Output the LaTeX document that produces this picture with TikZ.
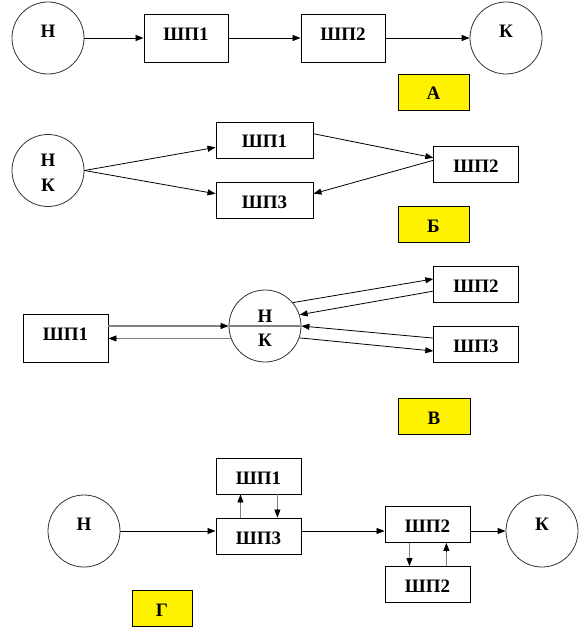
\documentclass[tikz,border=0pt]{standalone}
\usepackage{fontspec}
\setmainfont{Liberation Serif}
\usetikzlibrary{arrows.meta,calc}
\definecolor{lgray}{RGB}{128,128,128}
\newcommand\grayarrow[2]{%
  \draw[gline] (#1) -- ($(#2)!5pt!(#1)$);
  \draw[arr] ($(#2)!8.5pt!(#1)$) -- (#2);}
\begin{document}
\begin{tikzpicture}[x=1pt,y=-1pt]
\tikzset{
 fs/.style={font=\fontsize{19}{22}\selectfont\bfseries},
 bx/.style={draw=black, line width=0.9pt, rectangle, inner sep=0pt, fs, minimum width=#1},
 b48/.style={bx=#1, minimum height=48pt, text depth=8pt},
 b36/.style={bx=#1, minimum height=36pt, text height=16pt, text depth=0pt},
 lbl/.style={b36=#1, fill=yellow},
 circ/.style={draw=black!80, line width=0.8pt, circle, minimum size=72pt, inner sep=0pt, fs, text depth=14.3pt},
 tx/.style={fs, inner sep=0pt, anchor=base},
 arr/.style={-{Triangle[length=8pt,width=6pt]}, line width=0.8pt, draw=black},
 gline/.style={line width=1.8pt, draw=lgray},
}
\fill[white] (0,0) rectangle (588,639);
\useasboundingbox (0,0) rectangle (588,639);

% ---- A
\node[circ] (aN) at (48,38) {Н};
\node[b48=84pt] (aS1) at (186,38) {ШП1};
\node[b48=84pt] (aS2) at (343,38) {ШП2};
\node[circ] (aK) at (506,38) {К};
\node[lbl=71pt] (aL) at (433.5,92) {А};
\draw[arr] (aN.east) -- (aS1.west);
\draw[arr] (aS1.east) -- (aS2.west);
\draw[arr] (aS2.east) -- (aK.west);

% ---- Б
\node[circ] (bNK) at (48,170.5) {};
\node[tx] (bNKn) at (48,166.5) {Н};
\node[tx] (bNKk) at (48,191) {К};
\node[b36=97pt] (bS1) at (264.5,140) {ШП1};
\node[b36=97pt] (bS3) at (264.5,200) {ШП3};
\node[b36=84.5pt] (bS2) at (476,164) {ШП2};
\node[lbl=71pt] (bL) at (433.5,224.5) {Б};
\draw[arr] (bNK.east) -- ($(bS1.north west)!0.7!(bS1.south west)$);
\draw[arr] (bNK.east) -- ($(bS3.north west)!0.33!(bS3.south west)$);
\draw[arr] ($(bS1.north east)!0.33!(bS1.south east)$) -- ($(bS2.north west)!0.33!(bS2.south west)$);
\draw[arr] ($(bS2.north west)!0.4!(bS2.south west)$) -- ($(bS3.north east)!0.33!(bS3.south east)$);

% ---- В
\node[b48=85pt] (vS1) at (65.5,338) {ШП1};
\node[circ] (vNK) at (265,326) {};
\node[tx] (vNKn) at (265,322) {Н};
\node[tx] (vNKk) at (265,346) {К};
\node[b36=84.5pt] (vS2) at (476,284.5) {ШП2};
\node[b36=84.5pt] (vS3) at (476,344) {ШП3};
\node[lbl=72pt] (vL) at (434,416) {В};
\draw[gline] (vNK.west) -- (vNK.east);
\coordinate (v1s) at (vS1.east |- vNK.west);
\coordinate (v2e) at (vNK.200 -| vS1.east);
\grayarrow{v1s}{vNK.west}
\grayarrow{vNK.200}{v2e}
\draw[arr] (vNK.40) -- ($(vS2.north west)!0.35!(vS2.south west)$);
\draw[arr] ($(vS2.north west)!0.68!(vS2.south west)$) -- (vNK.18);
\draw[arr] ($(vS3.north west)!0.34!(vS3.south west)$) -- (vNK.east);
\draw[arr] (vNK.-19) -- ($(vS3.north west)!0.69!(vS3.south west)$);

% ---- Г
\node[circ] (gN) at (84,531) {Н};
\node[b36=85pt] (gS1) at (258.5,476) {ШП1};
\node[b36=85pt] (gS3) at (258.5,536) {ШП3};
\node[b36=85pt] (gS2) at (427.5,524.5) {ШП2};
\node[b36=85pt] (gS4) at (427.5,584.5) {ШП2};
\node[circ] (gK) at (542,531) {К};
\node[lbl=60pt] (gL) at (162,608.7) {Г};
\draw[arr] (gN.east) -- (gN.east -| gS3.west);
\draw[arr] (gN.east -| gS3.east) -- (gN.east -| gS2.west);
\draw[arr] (gK.west -| gS2.east) -- (gK.west);
\coordinate (g3a) at ($(gS3.north west)!0.29!(gS3.north east)$);
\coordinate (g1a) at ($(gS1.south west)!0.29!(gS1.south east)$);
\coordinate (g1b) at ($(gS1.south west)!0.72!(gS1.south east)$);
\coordinate (g3b) at ($(gS3.north west)!0.72!(gS3.north east)$);
\coordinate (g2a) at ($(gS2.south west)!0.29!(gS2.south east)$);
\coordinate (g4a) at ($(gS4.north west)!0.29!(gS4.north east)$);
\coordinate (g4b) at ($(gS4.north west)!0.72!(gS4.north east)$);
\coordinate (g2b) at ($(gS2.south west)!0.72!(gS2.south east)$);
\grayarrow{g3a}{g1a}
\grayarrow{g1b}{g3b}
\grayarrow{g2a}{g4a}
\grayarrow{g4b}{g2b}
\end{tikzpicture}
\end{document}
